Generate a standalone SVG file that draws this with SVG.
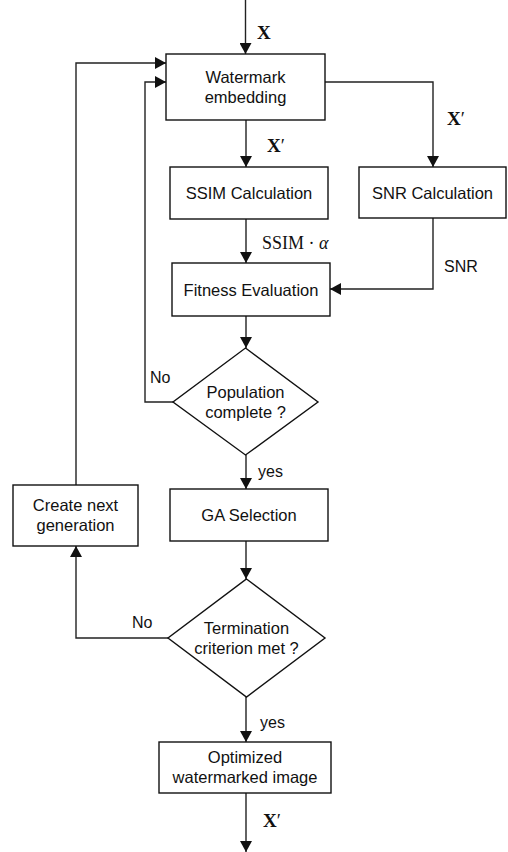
<svg xmlns="http://www.w3.org/2000/svg" width="508" height="852" viewBox="0 0 508 852">
<style>
.box{fill:#fff;stroke:#111;stroke-width:1.4}
.ln{fill:none;stroke:#222;stroke-width:1.4}
.t{font-family:"Liberation Sans",Arial,sans-serif;font-size:16.5px;fill:#111;text-anchor:middle}
.lb{font-family:"Liberation Sans",Arial,sans-serif;font-size:16px;fill:#111}
.m{font-family:"Liberation Serif","Times New Roman",serif;font-size:19px;font-weight:bold;fill:#111}
.s{font-family:"Liberation Serif","Times New Roman",serif;font-size:18px;fill:#111}
</style>
<defs>
<marker id="ah" markerUnits="userSpaceOnUse" markerWidth="12" markerHeight="12" refX="11" refY="6" orient="auto">
<path d="M0,0 L11,6 L0,12 z" fill="#111"/>
</marker>
</defs>
<rect width="508" height="852" fill="#fff"/>
<g id="connectors">
<path class="ln" d="M245.5,0 V54" marker-end="url(#ah)"/>
<path class="ln" d="M246,120 V167" marker-end="url(#ah)"/>
<path class="ln" d="M325,82 H433 V167" marker-end="url(#ah)"/>
<path class="ln" d="M433,218 V289 H330" marker-end="url(#ah)"/>
<path class="ln" d="M246,219 V263" marker-end="url(#ah)"/>
<path class="ln" d="M246,316 V348" marker-end="url(#ah)"/>
<path class="ln" d="M173,402 H145 V82 H166" marker-end="url(#ah)"/>
<path class="ln" d="M246,455 V489" marker-end="url(#ah)"/>
<path class="ln" d="M246,541 V579" marker-end="url(#ah)"/>
<path class="ln" d="M168,638 H76 V546" marker-end="url(#ah)"/>
<path class="ln" d="M76,485 V63 H166" marker-end="url(#ah)"/>
<path class="ln" d="M246,697 V742" marker-end="url(#ah)"/>
<path class="ln" d="M246,793 V852" marker-end="url(#ah)"/>
<text class="m" x="257" y="39">X</text>
<text class="m" x="267" y="152">X<tspan font-weight="normal">′</tspan></text>
<text class="m" x="447" y="125">X<tspan font-weight="normal">′</tspan></text>
<text class="s" x="262" y="249">SSIM · <tspan font-style="italic">α</tspan></text>
<text class="lb" x="444" y="272">SNR</text>
<text class="lb" x="150" y="383">No</text>
<text class="lb" x="258" y="477">yes</text>
<text class="lb" x="132" y="628">No</text>
<text class="lb" x="260" y="728">yes</text>
<text class="m" x="263" y="827">X<tspan font-weight="normal">′</tspan></text>
</g>
<g id="watermark">
<rect class="box" x="166" y="54" width="159" height="66"/>
<text class="t" x="245.5" y="83">Watermark</text>
<text class="t" x="245.5" y="103">embedding</text>
</g>
<g id="ssim">
<rect class="box" x="170" y="167" width="158" height="52"/>
<text class="t" x="249" y="199">SSIM Calculation</text>
</g>
<g id="snr">
<rect class="box" x="359" y="167" width="147" height="51"/>
<text class="t" x="432.5" y="199">SNR Calculation</text>
</g>
<g id="fitness">
<rect class="box" x="172" y="263" width="158" height="53"/>
<text class="t" x="251" y="296">Fitness Evaluation</text>
</g>
<g id="population">
<polygon class="box" points="245.5,348 318,402 245.5,455 173,402"/>
<text class="t" x="245.5" y="398">Population</text>
<text class="t" x="245.5" y="418">complete ?</text>
</g>
<g id="ga">
<rect class="box" x="170" y="489" width="158" height="52"/>
<text class="t" x="249" y="521">GA Selection</text>
</g>
<g id="nextgen">
<rect class="box" x="13" y="485" width="125" height="61"/>
<text class="t" x="75.5" y="511">Create next</text>
<text class="t" x="75.5" y="531">generation</text>
</g>
<g id="termination">
<polygon class="box" points="246.5,579 325,638 246.5,697 168,638"/>
<text class="t" x="246.5" y="634">Termination</text>
<text class="t" x="246.5" y="654">criterion met ?</text>
</g>
<g id="optimized">
<rect class="box" x="159" y="742" width="172" height="51"/>
<text class="t" x="245" y="763">Optimized</text>
<text class="t" x="245" y="783">watermarked image</text>
</g>
</svg>
